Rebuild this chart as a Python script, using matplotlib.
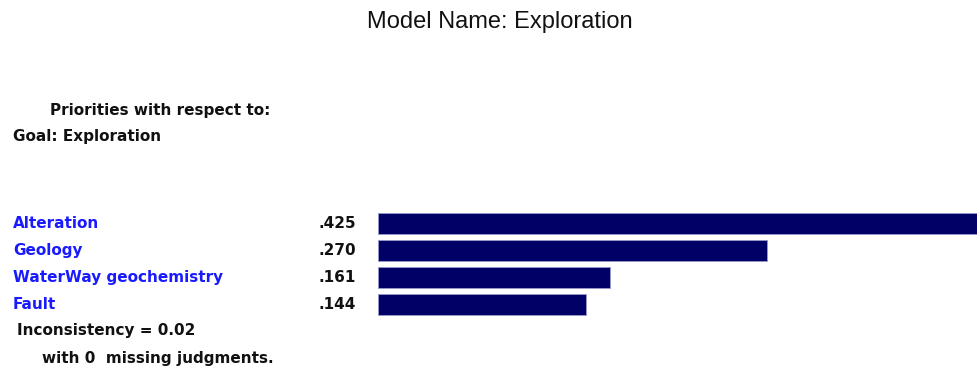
import matplotlib.pyplot as plt

# Data
criteria = ['Alteration', 'Geology', 'WaterWay geochemistry', 'Fault']
priorities = [0.425, 0.270, 0.161, 0.144]
inconsistency = 0.02
missing = 0

W, H = 977, 372
fig = plt.figure(figsize=(W / 100, H / 100), dpi=100)


def px(x, y):
    return x / W, 1 - y / H


bold = dict(family='DejaVu Sans', weight='bold', fontsize=11, va='center')

fig.text(*px(500, 22), 'Model Name: Exploration', ha='center', va='center',
         family='Liberation Sans', fontsize=17, color='#111111')
fig.text(*px(50, 110), 'Priorities with respect to:', ha='left', color='#111111', **bold)
fig.text(*px(13, 136), 'Goal: Exploration', ha='left', color='#111111', **bold)

# Bars
top, step = 210, 27
ax = fig.add_axes([378 / W, 1 - (top + step * len(criteria)) / H, (W - 378) / W, step * len(criteria) / H])
ypos = list(range(len(criteria)))
ax.barh(ypos, priorities, height=0.8, color='#000066', edgecolor='#9999cc', linewidth=0.6)
ax.set_xlim(0, (W - 378) / 1441)
ax.set_ylim(len(criteria) - 0.5, -0.5)
ax.axis('off')

# Labels and values, placed alongside each bar
for i, (name, val) in enumerate(zip(criteria, priorities)):
    yc = top + step / 2 + step * i
    fig.text(*px(13, yc), name, ha='left', color='#1a1aff', **bold)
    fig.text(*px(356, yc), ('%.3f' % val).lstrip('0'), ha='right', color='#111111', **bold)

fig.text(*px(17, 331), 'Inconsistency = %.2f' % inconsistency, ha='left', color='#111111', **bold)
fig.text(*px(42, 358), 'with %d  missing judgments.' % missing, ha='left', color='#111111', **bold)

fig.savefig('out.png', dpi=100)
